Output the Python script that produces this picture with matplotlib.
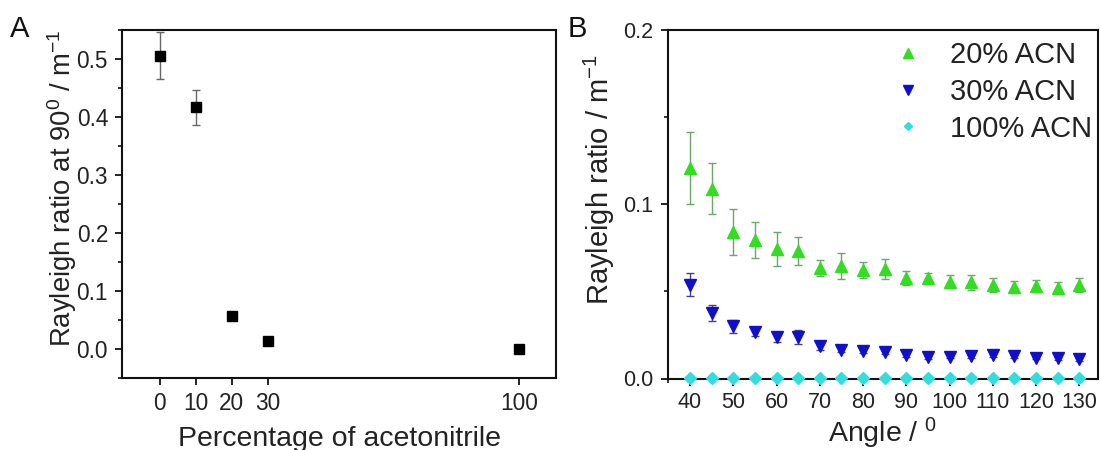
import numpy as np
import matplotlib
matplotlib.use("Agg")
from matplotlib import pyplot as plt
from matplotlib.ticker import MultipleLocator, FixedLocator

plt.rcParams['font.family'] = ['Liberation Sans', 'DejaVu Sans']
plt.rcParams['mathtext.fontset'] = 'custom'
plt.rcParams['mathtext.rm'] = 'Liberation Sans'
plt.rcParams['mathtext.it'] = 'Liberation Sans'
plt.rcParams['mathtext.default'] = 'regular'

# panel A : rayleigh ratio at 90 deg vs acetonitrile content
acn_pct = [0, 10, 20, 30, 100]
ratio_90 = [0.506, 0.417, 0.057, 0.013, 0.0]
ratio_90_err = [0.040, 0.030, 0.0, 0.0, 0.0]

# panel B : rayleigh ratio vs angle
angle_list = [40, 45, 50, 55, 60, 65, 70, 75, 80, 85, 90, 95, 100, 105, 110, 115, 120, 125, 130]
acn20 = [0.1207, 0.1089, 0.0840, 0.0797, 0.0743, 0.0730, 0.0634, 0.0648, 0.0621, 0.0628,
         0.0577, 0.0575, 0.0556, 0.0552, 0.0535, 0.0525, 0.0529, 0.0522, 0.0537]
acn20_err = [0.0205, 0.0145, 0.0134, 0.0103, 0.0100, 0.0080, 0.0044, 0.0075, 0.0046, 0.0056,
             0.0042, 0.0032, 0.0036, 0.0043, 0.0040, 0.0033, 0.0034, 0.0029, 0.0040]
acn30 = [0.0539, 0.0376, 0.0300, 0.0269, 0.0239, 0.0239, 0.0185, 0.0166, 0.0159, 0.0151,
         0.0136, 0.0122, 0.0126, 0.0128, 0.0134, 0.0128, 0.0118, 0.0117, 0.0111]
acn30_err = [0.0065, 0.0047, 0.0037, 0.0025, 0.0027, 0.0040, 0.0022, 0.0012, 0.0010, 0.0010,
             0.0010, 0.0008, 0.0008, 0.0008, 0.0008, 0.0008, 0.0008, 0.0008, 0.0008]
acn100 = [0.0005] * 19


def style_axis(ax, tick_size):
    for sp in ax.spines.values():
        sp.set_linewidth(1.5)
        sp.set_color('#111111')
    ax.tick_params(which='major', direction='out', length=5, width=1.3, labelsize=tick_size,
                   colors='#111111', pad=5)
    ax.tick_params(which='minor', direction='out', length=3, width=1.2, colors='#111111')
    ax.tick_params(axis='both', labelcolor='#222222')


fig = plt.figure(figsize=(11, 4.5), dpi=100)
ax1 = fig.add_axes([122 / 1100, 1 - 378 / 450, (556 - 122) / 1100, (378 - 30) / 450])
ax2 = fig.add_axes([667.5 / 1100, 1 - 378.5 / 450, (1098 - 667.5) / 1100, (378.5 - 30) / 450])

# ---- A
ax1.errorbar(acn_pct, ratio_90, yerr=ratio_90_err, fmt='s', color='black', ms=6.5,
             ecolor='#666666', elinewidth=1.0, capsize=3, capthick=1.0)
ax1.set_xlim(-10.5, 110.3)
ax1.set_ylim(-0.05, 0.55)
ax1.xaxis.set_major_locator(FixedLocator([0, 10, 20, 30, 100]))
ax1.yaxis.set_major_locator(MultipleLocator(0.1))
ax1.yaxis.set_minor_locator(MultipleLocator(0.05))
ax1.yaxis.set_major_formatter(matplotlib.ticker.FormatStrFormatter('%.1f'))
style_axis(ax1, 16.3)
ax1.set_xlabel("Percentage of acetonitrile", fontsize=20.5, color='#222222', labelpad=8)
ax1.set_ylabel("Rayleigh ratio at 90$^0$ / m$^{-1}$", fontsize=19.8, color='#222222')
ax1.yaxis.set_label_coords(-0.098, 0.545)
fig.text(10 / 1100, 1 - 37 / 450, "A", fontsize=21, color='#111111')

# ---- B
ax2.errorbar(angle_list, acn20, yerr=acn20_err, fmt='^', color='#33dd22', ms=9,
             ecolor='#6aa86a', elinewidth=1.0, capsize=3, capthick=1.0, label='20% ACN')
ax2.errorbar(angle_list, acn30, yerr=acn30_err, fmt='v', color='#1010cc', ms=9,
             ecolor='#404090', elinewidth=1.0, capsize=3, capthick=1.0, label='30% ACN')
ax2.plot(angle_list, acn100, 'D', color='#33dddd', ms=6, label='100% ACN', clip_on=False, zorder=5)
ax2.set_xlim(34.8, 134.3)
ax2.set_ylim(0, 0.2)
ax2.xaxis.set_major_locator(MultipleLocator(10))
ax2.xaxis.set_minor_locator(MultipleLocator(5))
ax2.yaxis.set_major_locator(MultipleLocator(0.1))
ax2.yaxis.set_minor_locator(MultipleLocator(0.05))
ax2.yaxis.set_major_formatter(matplotlib.ticker.FormatStrFormatter('%.1f'))
style_axis(ax2, 15.5)
ax2.set_xlabel("Angle / $^0$", fontsize=20.5, color='#222222', labelpad=2)
ax2.set_ylabel("Rayleigh ratio / m$^{-1}$", fontsize=21, color='#222222')
ax2.yaxis.set_label_coords(-0.117, 0.57)
fig.text(568 / 1100, 1 - 37 / 450, "B", fontsize=21, color='#111111')

handles, labels = ax2.get_legend_handles_labels()
handles = [h[0] if isinstance(h, matplotlib.container.ErrorbarContainer) else h for h in handles]
order = [labels.index(n) for n in ['20% ACN', '30% ACN', '100% ACN']]
leg = ax2.legend([handles[i] for i in order], [labels[i] for i in order],
                 loc='upper right', frameon=False, fontsize=21,
                 markerscale=0.75, handlelength=1.0, handletextpad=0.95, labelspacing=0.3,
                 borderpad=0.2, borderaxespad=0.0, bbox_to_anchor=(1.0, 0.985))
for t in leg.get_texts():
    t.set_color('#222222')

fig.savefig("out.png", dpi=100)
